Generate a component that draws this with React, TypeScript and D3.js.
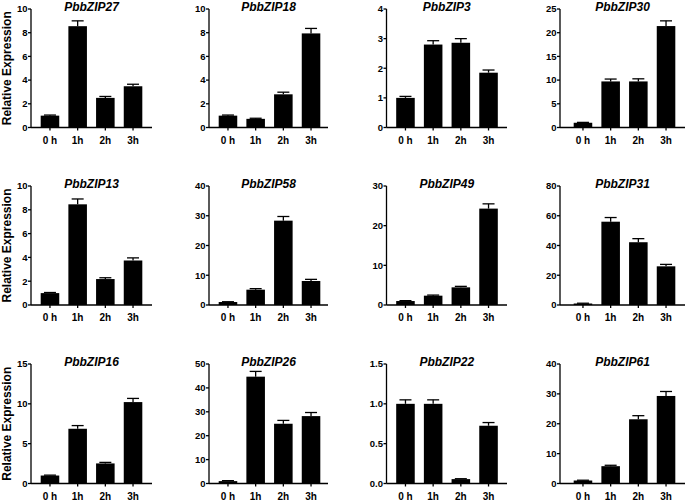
import React from 'react';
import * as d3 from 'd3';

const timePoints = ['0 h', '1h', '2h', '3h'];
const genes = [
  'PbbZIP27', 'PbbZIP18', 'PbbZIP3', 'PbbZIP30',
  'PbbZIP13', 'PbbZIP58', 'PbbZIP49', 'PbbZIP31',
  'PbbZIP16', 'PbbZIP26', 'PbbZIP22', 'PbbZIP61',
];
const means = [
  [1.0, 8.55, 2.5, 3.48],
  [1.0, 0.73, 2.8, 7.94],
  [1.0, 2.8, 2.86, 1.85],
  [1.0, 9.72, 9.72, 21.4],
  [1.0, 8.46, 2.18, 3.74],
  [1.0, 5.15, 28.35, 8.07],
  [1.0, 2.35, 4.45, 24.3],
  [1.0, 56.0, 42.2, 26.0],
  [1.0, 6.87, 2.52, 10.22],
  [1.0, 44.7, 25.0, 28.2],
  [1.0, 1.0, 0.055, 0.725],
  [1.0, 5.8, 21.5, 29.3],
];
const errors = [
  [0.05, 0.45, 0.12, 0.17],
  [0.05, 0.05, 0.18, 0.42],
  [0.05, 0.13, 0.14, 0.09],
  [0.08, 0.5, 0.55, 1.1],
  [0.05, 0.45, 0.11, 0.22],
  [0.1, 0.35, 1.4, 0.55],
  [0.1, 0.15, 0.25, 1.2],
  [0.2, 2.8, 2.4, 1.3],
  [0.05, 0.4, 0.13, 0.46],
  [0.2, 2.2, 1.4, 1.5],
  [0.05, 0.05, 0.005, 0.04],
  [0.1, 0.3, 1.2, 1.5],
];
const yMax = [10, 10, 4, 25, 10, 40, 30, 80, 15, 50, 1.5, 40];
const yStep = [2, 2, 1, 5, 2, 10, 10, 20, 5, 10, 0.5, 10];
const yAxisTitle = 'Relative Expression';

const colAxisX = [31, 209, 386.5, 560];
const colAxisEnd = [152, 328, 507, 685];
const colBandStart = [31, 209, 386.5, 564];
const rowTop = [9, 186, 364];
const rowZero = [127.5, 305, 483.5];

const FONT = 'Liberation Sans, Arial, Helvetica, sans-serif';

function Panel({ idx }: { idx: number }) {
  const col = idx % 4;
  const row = Math.floor(idx / 4);
  const x0 = colAxisX[col];
  const x1 = colAxisEnd[col];
  const top = rowTop[row];
  const zero = rowZero[row];
  const x = d3
    .scaleBand<string>()
    .domain(timePoints)
    .range([colBandStart[col], colBandStart[col] + 121])
    .paddingInner(0.33)
    .paddingOuter(0.35);
  const y = d3.scaleLinear().domain([0, yMax[idx]]).range([zero, top]);
  const ticks = d3.range(0, yMax[idx] + yStep[idx] / 2, yStep[idx]);
  const fmt = yStep[idx] < 1 ? d3.format('.1f') : d3.format('d');
  const bw = x.bandwidth();
  const capW = 12;
  return (
    <g>
      {timePoints.map((t, i) => {
        const v = means[idx][i];
        const e = errors[idx][i];
        const cx = (x(t) as number) + bw / 2;
        return (
          <g key={t}>
            <rect x={x(t)} y={y(v)} width={bw} height={zero - y(v)} fill="#000" />
            <line x1={cx} x2={cx} y1={y(v)} y2={y(v + e)} stroke="#000" strokeWidth={1.3} />
            <line x1={cx - capW / 2} x2={cx + capW / 2} y1={y(v + e)} y2={y(v + e)} stroke="#000" strokeWidth={1.3} />
            <line x1={cx} x2={cx} y1={zero} y2={zero + 3} stroke="#000" strokeWidth={1.3} />
            <text x={cx} y={zero + 16} textAnchor="middle" fontFamily={FONT} fontWeight="bold" fontSize={10} fill="#000">
              {t}
            </text>
          </g>
        );
      })}
      <line x1={x0} x2={x0} y1={top} y2={zero} stroke="#000" strokeWidth={1.3} />
      <line x1={x0} x2={x1} y1={zero} y2={zero} stroke="#000" strokeWidth={1.3} />
      {ticks.map((tv) => (
        <g key={tv}>
          <line x1={x0 - 3} x2={x0} y1={y(tv)} y2={y(tv)} stroke="#000" strokeWidth={1.3} />
          <text x={x0 - 3.5} y={y(tv)} dy="0.35em" textAnchor="end" fontFamily={FONT} fontWeight="bold" fontSize={9.5} fill="#000">
            {fmt(tv)}
          </text>
        </g>
      ))}
      <text x={(x0 + x1) / 2} y={top + 1.5} textAnchor="middle" fontFamily={FONT} fontWeight="bold" fontStyle="italic" fontSize={12} fill="#000">
        {genes[idx]}
      </text>
      {col === 0 && (
        <text
          transform={`translate(10.5, ${(top + zero) / 2}) rotate(-90)`}
          textAnchor="middle"
          fontFamily={FONT}
          fontWeight="bold"
          fontSize={12}
          fill="#000"
        >
          {yAxisTitle}
        </text>
      )}
    </g>
  );
}

export default function App() {
  return (
    <svg
      width={685}
      height={500}
      style={{ position: 'absolute', left: 0, top: 0, background: '#fff' }}
    >
      <rect width={685} height={500} fill="#fff" />
      {genes.map((g, i) => (
        <Panel key={g} idx={i} />
      ))}
    </svg>
  );
}
